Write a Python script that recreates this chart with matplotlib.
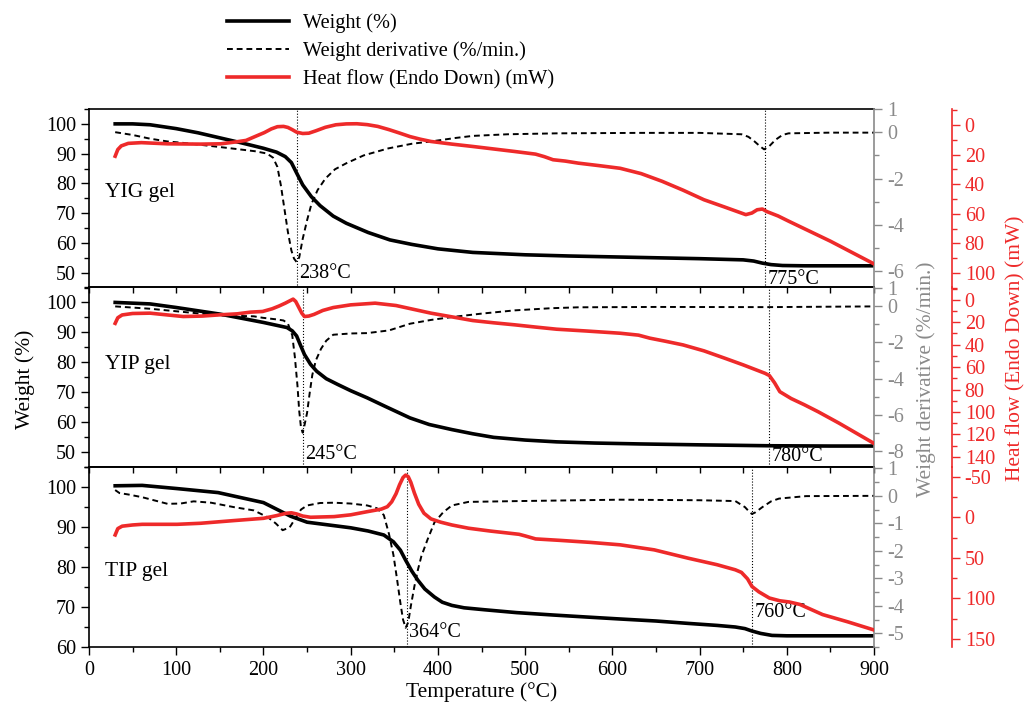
import numpy as np
import matplotlib
matplotlib.use('Agg')
import matplotlib.pyplot as plt
from matplotlib.lines import Line2D
from matplotlib.ticker import MultipleLocator, FixedLocator, NullFormatter

plt.rcParams['font.family'] = ['Liberation Serif', 'DejaVu Serif']
plt.rcParams['axes.unicode_minus'] = False

RED = '#ee2a2a'
GRAY = '#8a8a8a'

# ---- YIG gel ----
T_w1 = [30, 50, 70, 100, 125, 150, 175, 200, 215, 225, 232, 238, 245, 255, 265, 280, 295, 320, 345, 370,
        400, 440, 500, 550, 600, 650, 700, 750, 762, 772, 782, 795, 820, 860, 900]
W1 = [100, 100, 99.7, 98.4, 97, 95.3, 93.6, 91.8, 90.5, 89, 87, 83.5, 79.5, 75.5, 72.5, 69, 66.6, 63.5, 61, 59.5,
      58, 56.8, 56, 55.6, 55.3, 55.0, 54.7, 54.3, 53.9, 53.2, 52.7, 52.4, 52.3, 52.3, 52.3]
T_d1 = [30, 50, 70, 90, 113, 150, 190, 204, 211, 216, 220, 224, 228, 232, 235, 238, 241, 245, 250, 255, 262,
        271, 282, 295, 315, 343, 370, 392, 420, 440, 480, 536, 632, 700, 748, 756, 763, 769, 774, 780, 787,
        795, 802, 850, 900]
D1 = [0.0, -0.12, -0.28, -0.4, -0.48, -0.64, -0.82, -0.92, -1.1, -1.5, -2.3, -3.3, -4.3, -5.1, -5.45, -5.6,
      -5.4, -4.6, -3.8, -3.1, -2.5, -2.0, -1.6, -1.34, -1.0, -0.7, -0.5, -0.4, -0.25, -0.16, -0.09, -0.05,
      -0.03, -0.03, -0.09, -0.2, -0.4, -0.6, -0.74, -0.6, -0.33, -0.12, -0.05, -0.02, -0.02]
T_h1 = [30, 33, 37, 45, 60, 90, 128, 151, 166, 180, 193, 201, 209, 216, 223, 228, 233, 238, 245, 252, 260,
        271, 283, 295, 307, 319, 331, 344, 356, 368, 380, 392, 416, 440, 464, 488, 512, 522, 532, 546, 561,
        585, 609, 633, 657, 681, 705, 729, 753, 760, 766, 772, 777, 790, 802, 826, 850, 874, 900]
H1 = [21, 16.5, 14, 12.3, 11.8, 12.6, 12.8, 12.6, 11.5, 10.3, 7, 5, 2.5, 1.0, 0.8, 1.5, 3.0, 4.7, 5.6, 5.4,
      3.8, 1.4, -0.3, -0.9, -1.0, -0.4, 0.8, 3.0, 5.3, 7.7, 9.5, 11, 12.8, 14.4, 16.1, 17.8, 19.6, 21.3,
      23.4, 24.3, 25.7, 27.4, 29.2, 32.8, 38, 44, 50.5, 55.5, 60.6, 59.5, 57.3, 56.8, 58.5, 61.5, 65, 71.8,
      78.6, 86, 94]

# ---- YIP gel ----
T_w2 = [30, 70, 100, 150, 200, 227, 233, 238, 242, 247, 254, 261, 272, 285, 300, 319, 340, 368, 390, 416,
        440, 464, 500, 536, 580, 632, 700, 778, 850, 900]
W2 = [100, 99.5, 98.3, 96.1, 93.3, 91.6, 90.5, 88.8, 86, 82.6, 79.3, 77, 74.5, 72.6, 70.5, 68.1, 65.2, 61.4,
      59.2, 57.5, 56.1, 54.9, 54, 53.4, 53, 52.7, 52.4, 52.1, 52.0, 52.0]
T_d2 = [30, 70, 128, 151, 189, 199, 215, 223, 228, 233, 236, 239, 241, 243, 245, 247, 250, 253, 256, 260,
        266, 272, 280, 300, 319, 344, 368, 392, 416, 450, 488, 530, 561, 650, 778, 900]
D2 = [0.0, -0.13, -0.4, -0.5, -0.55, -0.63, -0.72, -0.78, -0.95, -1.6, -2.8, -4.4, -5.8, -6.7, -7.0, -6.6,
      -5.9, -4.8, -3.8, -3.0, -2.35, -1.9, -1.57, -1.5, -1.48, -1.33, -0.96, -0.75, -0.59, -0.4, -0.22, -0.1,
      -0.05, -0.03, -0.04, 0.0]
T_h2 = [30, 33, 38, 50, 70, 90, 108, 130, 150, 170, 185, 199, 210, 218, 225, 230, 234, 237, 240, 244, 247,
        252, 258, 268, 280, 300, 328, 352, 372, 392, 416, 440, 464, 488, 512, 536, 570, 609, 630, 643, 660,
        681, 705, 729, 750, 768, 775, 780, 786, 792, 805, 820, 836, 860, 880, 900]
H2 = [21, 16, 13.5, 12.2, 11.9, 13.5, 14.9, 14.5, 13.4, 12.5, 11, 10.4, 8, 5.5, 3, 1.0, -0.6, 1.5, 6, 12,
      14.9, 14.5, 13.0, 9.5, 6.9, 4.5, 3, 5.1, 8.5, 11.9, 15.2, 18.5, 20.5, 22.3, 24.3, 26.2, 27.8, 29.8,
      31.5, 34.2, 36.8, 40.2, 45.5, 52.1, 58, 63.4, 65.5, 67.5, 74, 81.9, 88, 93.5, 99.8, 110, 119, 128]

# ---- TIP gel ----
T_w3 = [30, 61, 101, 148, 200, 231, 250, 275, 300, 320, 338, 349, 357, 363, 370, 377, 385, 396, 405, 416,
        430, 454, 490, 532, 570, 609, 650, 687, 720, 741, 752, 760, 770, 783, 800, 850, 900]
W3 = [100.3, 100.4, 99.6, 98.6, 96.1, 92.7, 91.2, 90.5, 89.8, 89, 88, 86.3, 84.2, 81.7, 79, 76.7, 74.5,
      72.5, 71.2, 70.4, 69.8, 69.3, 68.6, 68, 67.5, 67, 66.5, 65.9, 65.4, 65, 64.6, 64, 63.4, 62.9, 62.8,
      62.8, 62.8]
T_d3 = [30, 35, 45, 61, 90, 105, 120, 140, 166, 189, 205, 214, 222, 230, 236, 243, 250, 265, 281, 300, 319,
        330, 338, 344, 349, 353, 357, 360, 363, 366, 369, 373, 377, 381, 388, 396, 406, 416, 435, 493, 609,
        700, 741, 752, 757, 760, 764, 772, 782, 791, 822, 900]
D3 = [0.21, 0.1, 0.05, -0.05, -0.29, -0.28, -0.2, -0.25, -0.41, -0.53, -0.78, -1.0, -1.25, -1.15, -0.85,
      -0.5, -0.35, -0.26, -0.25, -0.28, -0.35, -0.45, -0.7, -1.4, -2.15, -3.0, -3.9, -4.5, -4.8, -4.6, -4.0,
      -3.3, -2.7, -2.2, -1.6, -0.97, -0.6, -0.35, -0.22, -0.19, -0.14, -0.16, -0.19, -0.41, -0.58, -0.66,
      -0.6, -0.41, -0.2, -0.1, -0.01, 0.0]
T_h3 = [30, 33, 38, 50, 61, 101, 128, 166, 200, 215, 226, 232, 238, 245, 254, 281, 300, 319, 335, 342, 347,
        352, 356, 360, 363, 366, 369, 373, 378, 384, 392, 403, 416, 435, 460, 493, 500, 512, 540, 575, 609,
        648, 687, 720, 741, 748, 755, 760, 768, 780, 792, 803, 815, 841, 870, 900]
H3 = [21.8, 14, 11, 9.5, 8.7, 8.7, 7.4, 4.1, 1.3, -2, -4.9, -5.5, -4.1, -1.5, 0, -0.8, -3, -6.9, -10, -13,
      -19, -29, -40, -49, -52, -50, -43, -30, -16, -5, 2, 6, 9.5, 13.5, 17, 21, 23, 26.7, 28.5, 31, 34, 40.2,
      50.5, 58.5, 64.8, 68, 76, 85.3, 92, 99.6, 103, 104.5, 107.5, 120, 129, 139]

names = ['YIG gel', 'YIP gel', 'TIP gel']
peaks = [(238, 775), (245, 780), (364, 760)]
panels = [(T_w1, W1, T_d1, D1, T_h1, H1), (T_w2, W2, T_d2, D2, T_h2, H2), (T_w3, W3, T_d3, D3, T_h3, H3)]

# per-panel axis settings
w_lims = [(45, 105), (45, 105), (60, 105)]
w_ticks = [[50, 60, 70, 80, 90, 100], [50, 60, 70, 80, 90, 100], [60, 70, 80, 90, 100]]
d_lims = [(-6.7, 1.0), (-8.9, 1.05), (-5.5, 1.05)]
d_ticks = [[1, 0, -2, -4, -6], [1, 0, -2, -4, -6, -8], [1, 0, -1, -2, -3, -4, -5]]
d_minor = [1, 1, 0.5]
h_lims = [(110, -11), (149, -11), (160, -62)]
h_major = [20, 20, 50]
h_minor = [10, 10, 25]
h_range = [(0, 100), (0, 140), (-50, 150)]
name_y = [0.53, 0.57, 0.42]
lab_y = [(0.08, 0.045), (0.067, 0.056), (0.083, 0.19)]

fig = plt.figure(figsize=(10.29, 7.11), dpi=100)
L, Wd = 0.0865, 0.7629
bottoms = [0.5956, 0.3432, 0.0900]
heights = [0.2511, 0.2525, 0.2532]
MAJ, MIN = 5.8, 3.6
TS = 14.5  # tick label size

for i in range(3):
    ax = fig.add_axes([L, bottoms[i], Wd, heights[i]])
    axd = ax.twinx()
    axh = ax.twinx()
    tw, w, td, d, th, h = panels[i]

    ax.plot(tw, w, color='black', lw=2.6, zorder=3)
    axd.plot(td, d, color='black', lw=1.4, ls=(0, (3, 2)))
    axh.plot(th, h, color=RED, lw=2.6)

    ax.set_xlim(0, 900)
    ax.set_ylim(*w_lims[i])
    ax.set_yticks(w_ticks[i])
    ax.yaxis.set_minor_locator(MultipleLocator(5))
    ax.xaxis.set_major_locator(MultipleLocator(100))
    ax.xaxis.set_minor_locator(MultipleLocator(50))
    ax.tick_params(axis='y', which='major', direction='out', length=MAJ, width=1, labelsize=TS)
    ax.tick_params(axis='y', which='minor', direction='out', length=MIN, width=1)
    ax.tick_params(axis='x', which='major', direction='out', length=MAJ, width=1, labelsize=TS, pad=4)
    ax.tick_params(axis='x', which='minor', direction='out', length=MIN, width=1)
    if i < 2:
        ax.tick_params(axis='x', which='both', bottom=False, labelbottom=False)
    if i > 0:
        sec = ax.secondary_xaxis('top')
        sec.xaxis.set_major_locator(MultipleLocator(50))
        sec.xaxis.set_major_formatter(NullFormatter())
        sec.tick_params(axis='x', which='major', direction='in', length=4, width=1)
        sec.spines['top'].set_linewidth(1.2)
    for s in ['left', 'top', 'bottom']:
        ax.spines[s].set_linewidth(1.2)
    ax.spines['right'].set_visible(False)

    axd.set_ylim(*d_lims[i])
    axd.set_yticks(d_ticks[i])
    axd.yaxis.set_minor_locator(MultipleLocator(d_minor[i]))
    axd.spines['right'].set_color(GRAY)
    axd.spines['right'].set_linewidth(1.2)
    for s in ['left', 'top', 'bottom']:
        axd.spines[s].set_visible(False)
    axd.tick_params(axis='y', which='major', colors=GRAY, direction='out', length=MAJ, width=1, labelsize=TS)
    axd.tick_params(axis='y', which='minor', colors=GRAY, direction='out', length=MIN, width=1)

    axh.set_ylim(*h_lims[i])
    lo, hi = h_range[i]
    axh.yaxis.set_major_locator(FixedLocator(np.arange(lo, hi + 1, h_major[i])))
    axh.yaxis.set_minor_locator(MultipleLocator(h_minor[i]))
    axh.spines['right'].set_position(('outward', 56))
    axh.spines['right'].set_color(RED)
    axh.spines['right'].set_linewidth(1.2)
    for s in ['left', 'top', 'bottom']:
        axh.spines[s].set_visible(False)
    axh.tick_params(axis='y', which='major', colors=RED, direction='out', length=MAJ, width=1, labelsize=TS)
    axh.tick_params(axis='y', which='minor', colors=RED, direction='out', length=MIN, width=1)

    for k, tp in enumerate(peaks[i]):
        ax.axvline(tp, color='black', lw=0.8, ls=':', zorder=1)
        ax.text(tp + 3, lab_y[i][k], '%d°C' % tp, transform=ax.get_xaxis_transform(),
                fontsize=14.5, va='center', ha='left')
    ax.text(0.02, name_y[i], names[i], transform=ax.transAxes, fontsize=15.5, va='center', ha='left')

    if i == 2:
        ax.set_xlabel('Temperature (°C)', fontsize=15.5, labelpad=2)

fig.text(0.024, 0.466, 'Weight (%)', rotation=90, fontsize=15.5, va='center', ha='center')
fig.text(0.900, 0.466, 'Weight derivative (%/min.)', rotation=90, fontsize=15.5, va='center', ha='center',
         color=GRAY)
fig.text(0.987, 0.51, 'Heat flow (Endo Down) (mW)', rotation=90, fontsize=15.5, va='center', ha='center',
         color=RED)

handles = [Line2D([], [], color='black', lw=2.6),
           Line2D([], [], color='black', lw=1.4, ls=(0, (3, 2))),
           Line2D([], [], color=RED, lw=2.6)]
labels = ['Weight (%)', 'Weight derivative (%/min.)', 'Heat flow (Endo Down) (mW)']
fig.legend(handles, labels, loc='upper left', bbox_to_anchor=(0.203, 1.007), frameon=False, fontsize=14.7,
           handlelength=3.0, labelspacing=0.42, handletextpad=0.7)

fig.savefig('out.png', dpi=100)
